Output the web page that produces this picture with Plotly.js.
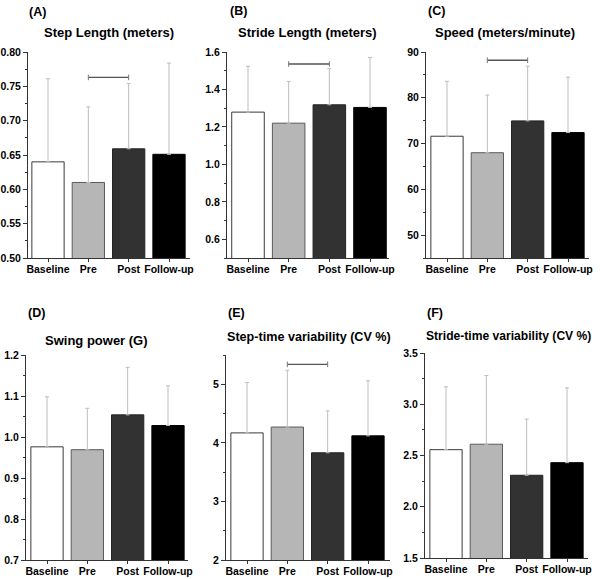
<!DOCTYPE html>
<html>
<head>
<meta charset="utf-8">
<script src="https://cdn.plot.ly/plotly-3.0.1.min.js"></script>
<style>html,body{margin:0;padding:0;background:#fff;}#chart{width:600px;height:579px;}</style>
</head>
<body>
<div id="chart"></div>
<script>
// ---- data ----
const categories = ['Baseline', 'Pre', 'Post', 'Follow-up'];
const panelLetters = ['(A)', '(B)', '(C)', '(D)', '(E)', '(F)'];
const panelTitles = ['Step Length (meters)', 'Stride Length (meters)', 'Speed (meters/minute)',
                     'Swing power (G)', 'Step-time variability (CV %)', 'Stride-time variability (CV %)'];
const stepLengthMean = [0.640, 0.610, 0.659, 0.651];
const stepLengthSD   = [0.121, 0.110, 0.095, 0.133];
const strideLengthMean = [1.279, 1.220, 1.318, 1.304];
const strideLengthSD   = [0.244, 0.223, 0.193, 0.267];
const speedMean = [71.6, 68.0, 74.95, 72.4];
const speedSD   = [12.0, 12.6, 11.95, 12.1];
const swingPowerMean = [0.976, 0.969, 1.054, 1.028];
const swingPowerSD   = [0.122, 0.101, 0.116, 0.097];
const stepTimeCVMean = [4.17, 4.27, 3.83, 4.12];
const stepTimeCVSD   = [0.86, 0.97, 0.715, 0.94];
const strideTimeCVMean = [2.557, 2.61, 2.307, 2.43];
const strideTimeCVSD   = [0.613, 0.67, 0.548, 0.73];
const yRanges = [[0.50, 0.80], [0.5, 1.6], [45, 90], [0.7, 1.2], [2, 5.5], [1.5, 3.5]];
const yDticks = [0.05, 0.2, 10, 0.1, 1, 0.5];
const yFormats = ['.2f', '.1f', 'd', '.1f', 'd', '.1f'];
// significance brackets (Pre vs Post): y level, or null
const bracketY = [0.763, 1.536, 88.2, null, 5.34, null];

const means = [stepLengthMean, strideLengthMean, speedMean, swingPowerMean, stepTimeCVMean, strideTimeCVMean];
const sds = [stepLengthSD, strideLengthSD, speedSD, swingPowerSD, stepTimeCVSD, strideTimeCVSD];

// ---- layout geometry (pixels) ----
const W = 600, H = 579;
const geom = [
  {L: 28, R: 190, c0: 48, c3: 169, T: 52, B: 258},
  {L: 227, R: 389, c0: 248, c3: 370, T: 52, B: 258},
  {L: 426, R: 589, c0: 447, c3: 568, T: 52, B: 258},
  {L: 26, R: 188, c0: 47, c3: 168, T: 355, B: 560},
  {L: 226, R: 390, c0: 247, c3: 368, T: 355, B: 560},
  {L: 425, R: 588, c0: 446, c3: 567, T: 353, B: 558}
];
const letterPos = [[27, 12], [228, 11], [426, 11], [26, 313], [226, 313], [425, 313]];
const titlePos = [
  {x: 109, y: 33, anchor: 'center', size: 13},
  {x: 307, y: 32, anchor: 'center', size: 13},
  {x: 505, y: 32, anchor: 'center', size: 13},
  {x: 43, y: 340, anchor: 'left', size: 13},
  {x: 225, y: 337, anchor: 'left', size: 12.6},
  {x: 424, y: 336, anchor: 'left', size: 12.1}
];

const fillColors = ['#ffffff', '#b6b6b6', '#323232', '#000000'];
const lineColors = ['#3a3a3a', '#5a5a5a', '#222222', '#000000'];
const FONT = 'Liberation Sans, Arial, sans-serif';

const traces = [];
const layout = {
  width: W, height: H,
  margin: {l: 0, r: 0, t: 0, b: 0},
  paper_bgcolor: '#fff', plot_bgcolor: 'rgba(0,0,0,0)',
  showlegend: false,
  bargap: 0.2,
  font: {family: FONT, color: '#000'},
  annotations: []
};

for (let i = 0; i < 6; i++) {
  const g = geom[i];
  const s = (g.c3 - g.c0) / 3;
  const xr = [-(g.c0 - g.L) / s, 3 + (g.R - g.c3) / s];
  const ax = i === 0 ? '' : String(i + 1);
  const xa = 'x' + ax, ya = 'y' + ax;
  traces.push({
    type: 'bar', x: [0, 1, 2, 3], y: means[i], xaxis: xa, yaxis: ya,
    marker: {color: fillColors, line: {color: lineColors, width: 1}},
    error_y: {type: 'data', array: sds[i], arrayminus: [0, 0, 0, 0], symmetric: false,
              color: '#bdbdbd', thickness: 1, width: 2},
    hoverinfo: 'none'
  });
  if (bracketY[i] !== null) {
    const b = bracketY[i];
    traces.push({
      type: 'scatter', mode: 'lines+markers', x: [1, 2], y: [b, b], xaxis: xa, yaxis: ya,
      line: {color: '#555', width: 1.3},
      marker: {symbol: 'line-ns', size: 4, line: {color: '#777', width: 1}},
      hoverinfo: 'none'
    });
  }
  layout['xaxis' + ax] = {
    domain: [g.L / W, g.R / W], range: xr, anchor: ya,
    tickmode: 'array', tickvals: [0, 1, 2, 3], ticktext: categories,
    showline: true, linecolor: '#333', linewidth: 1, ticks: 'outside', ticklen: 3,
    ticklabelstandoff: -2,
    tickcolor: '#333', showgrid: false, zeroline: false, fixedrange: true,
    tickfont: {family: FONT, size: 10.5, color: '#000', weight: 'bold'}
  };
  layout['yaxis' + ax] = {
    domain: [1 - g.B / H, 1 - g.T / H], range: yRanges[i], anchor: xa,
    dtick: yDticks[i], tick0: 0, tickformat: yFormats[i],
    showline: true, linecolor: '#333', linewidth: 1, ticks: 'outside', ticklen: 4,
    tickcolor: '#333', showgrid: false, zeroline: false, fixedrange: true,
    minor: {dtick: yDticks[i] / 2, ticks: 'outside', ticklen: 2.5, tickcolor: '#333', showgrid: false},
    tickfont: {family: FONT, size: 10.5, color: '#000', weight: 'bold'}
  };
  layout.annotations.push({
    xref: 'paper', yref: 'paper', x: letterPos[i][0] / W, y: 1 - letterPos[i][1] / H,
    xanchor: 'left', yanchor: 'middle', showarrow: false, text: '<b>' + panelLetters[i] + '</b>',
    font: {family: FONT, size: 12.5, color: '#000'}
  });
  layout.annotations.push({
    xref: 'paper', yref: 'paper', x: titlePos[i].x / W, y: 1 - titlePos[i].y / H,
    xanchor: titlePos[i].anchor, yanchor: 'middle', showarrow: false,
    text: '<b>' + panelTitles[i] + '</b>',
    font: {family: FONT, size: titlePos[i].size, color: '#000'}
  });
}

Plotly.newPlot('chart', traces, layout, {displayModeBar: false, staticPlot: true});
</script>
</body>
</html>
